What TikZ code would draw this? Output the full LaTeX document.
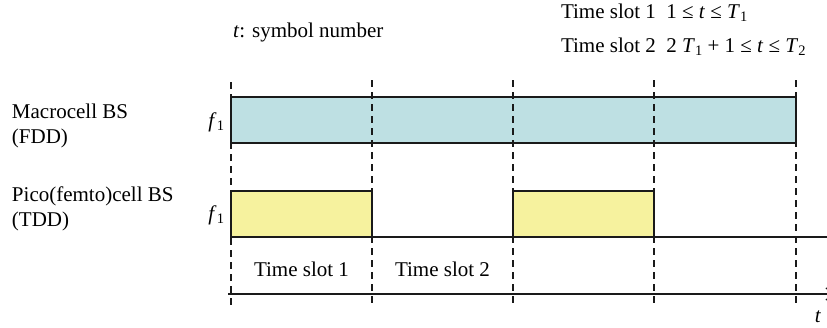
\documentclass[tikz,border=0pt]{standalone}
\usepackage{fontspec}
\setmainfont{Liberation Serif}
\usetikzlibrary{arrows.meta}
\definecolor{macrofill}{HTML}{BEE0E3}
\definecolor{picofill}{HTML}{F6F29E}
\definecolor{linegray}{HTML}{1A1A1A}
\newcommand\lowidx[1]{\raisebox{-0.35ex}{\fontsize{14.5}{15}\selectfont #1}}
\begin{document}
\begin{tikzpicture}[x=1pt,y=-1pt,
  font=\fontsize{21}{25}\selectfont,
  every node/.style={inner sep=0pt, outer sep=0pt},
  boxbase/.style={draw=linegray, line width=1.4pt, minimum height=46pt, anchor=north west},
  macrobox/.style={boxbase, fill=macrofill, minimum width=565pt},
  picobox/.style={boxbase, fill=picofill, minimum width=141pt},
  dashline/.style={draw=linegray, line width=1.4pt, dash pattern=on 7pt off 5pt},
  solidline/.style={draw=linegray, line width=1.3pt},
  lbl/.style={anchor=base west},
  flbl/.style={anchor=base east}]
\useasboundingbox (0,0) rectangle (827,327);

% boxes
\node[macrobox] (macro) at (231,97) {};
\node[picobox] (pico1) at (231,191) {};
\node[picobox] (pico2) at (513,191) {};

% pico base line
\coordinate (baseend) at (827,237);
\draw[solidline] (pico1.south west) -- (baseend);

% time axis
\coordinate (axstart) at (228,294);
\coordinate (axend) at (835,294);
\draw[solidline, -{Straight Barb[length=8pt,width=12pt]}] (axstart) -- (axend);

% dashed slot boundaries
\foreach \i/\x/\yt in {1/231/82, 2/372/80, 3/513/80, 4/654/80, 5/796/80} {
  \coordinate (d\i t) at (\x,\yt);
  \coordinate (d\i b) at (\x,305);
  \draw[dashline] (d\i t) -- (d\i b);
}

% labels
\node[lbl] (tsym) at (233,37) {\textit{t}: symbol number};
\node[lbl] (slotA) at (561,18) {Time slot 1\ \ 1 ≤ \textit{t} ≤ \textit{T}\lowidx{1}};
\node[lbl] (slotB) at (561,52) {Time slot 2\ \ 2 \textit{T}\lowidx{1} + 1 ≤ \textit{t} ≤ \textit{T}\lowidx{2}};

\node[lbl] (macroA) at (12,118) {Macrocell BS};
\node[lbl] (macroB) at (12,143) {(FDD)};
\node[lbl] (picoA) at (12,201) {Pico(femto)cell BS};
\node[lbl] (picoB) at (12,226) {(TDD)};

\node[flbl] (fmacro) at (224,127) {\textit{f}\lowidx{1}};
\node[flbl] (fpico) at (224,220) {\textit{f}\lowidx{1}};

\node[anchor=base] (ts1) at (301.5,276) {Time slot 1};
\node[anchor=base] (ts2) at (442.5,276) {Time slot 2};

\node[anchor=base] (tlbl) at (818,322) {\textit{t}};
\end{tikzpicture}
\end{document}
